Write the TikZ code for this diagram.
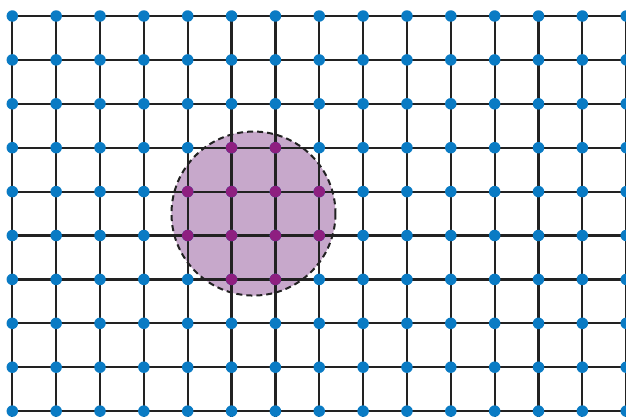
\documentclass[tikz,border=0pt]{standalone}
\usepackage{tikz}
\definecolor{dotblue}{HTML}{0A7BC4}
\definecolor{dotpurple}{HTML}{8E1F80}
\definecolor{disc}{HTML}{C7A8CB}
\definecolor{gridline}{HTML}{222222}
\tikzset{
  gridln/.style={draw=gridline, line width=2.2pt},
  bdot/.style={circle, fill=dotblue, inner sep=0pt, minimum size=11.5pt},
  pdot/.style={circle, fill=dotpurple, inner sep=0pt, minimum size=11.5pt},
  region/.style={fill=disc},
  regionedge/.style={draw=gridline, line width=2pt, dash pattern=on 6pt off 4pt}
}
\begin{document}
\begin{tikzpicture}[x=1pt,y=-1pt]
\useasboundingbox (0,0) rectangle (626,416);
\fill[white] (0,0) rectangle (626,416);
% lattice coordinates
\foreach \i in {0,...,14}{
  \foreach \j in {0,...,9}{
    \coordinate (p-\i-\j) at ({12.3+43.85*\i},{16+43.9*\j});
  }
}
\coordinate (cc) at ({12.3+43.85*5.5},{16+43.9*4.5});
% disc fill
\path[region] (cc) circle[radius=82];
% grid lines
\foreach \j in {0,...,9}{
  \draw[gridln] (p-0-\j) -- (p-14-\j) -- ++(6,0);
}
\foreach \i in {0,...,14}{
  \draw[gridln] (p-\i-0) -- (p-\i-9) -- ++(0,6);
}
% dots
\foreach \i in {0,...,14}{
  \foreach \j in {0,...,9}{
    \node[bdot] (d-\i-\j) at (p-\i-\j) {};
  }
}
\foreach \i/\j in {5/3,6/3,4/4,5/4,6/4,7/4,4/5,5/5,6/5,7/5,5/6,6/6}{
  \node[pdot] (q-\i-\j) at (p-\i-\j) {};
}
% dashed boundary
\draw[regionedge] (cc) circle[radius=82];
\end{tikzpicture}
\end{document}
